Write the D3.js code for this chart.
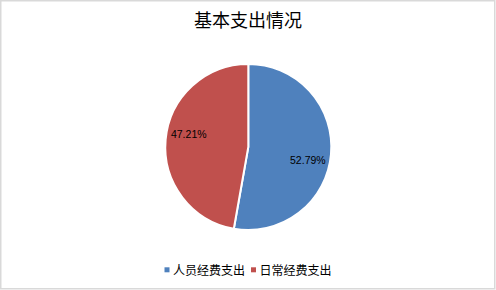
<!DOCTYPE html>
<html><head><meta charset="utf-8">
<script src="https://cdn.jsdelivr.net/npm/d3@7"></script>
<style>body{margin:0;background:#fff}svg{display:block}</style>
</head><body>
<script>
const title = "基本支出情况";
const categories = ["人员经费支出", "日常经费支出"];
const values = [52.79, 47.21];
const colors = ["#4F81BD", "#C0504D"];

const W = 496, H = 290;
const svg = d3.select("body").append("svg").attr("width", W).attr("height", H);
svg.append("rect").attr("x", 0.75).attr("y", 0.75).attr("width", 494).attr("height", 288)
  .attr("fill", "#fff").attr("stroke", "#d9d9d9").attr("stroke-width", 1.5);

svg.append("text").attr("x", 248).attr("y", 27).attr("text-anchor", "middle")
  .attr("font-family", "'Noto Sans CJK SC'").attr("font-size", 18).attr("fill", "#000").text(title);

const cx = 248.3, cy = 147, r = 83;
const pie = d3.pie().sort(null).value(d => d)(values);
const arc = d3.arc().innerRadius(0).outerRadius(r);
const g = svg.append("g").attr("transform", `translate(${cx},${cy})`);
g.selectAll("path").data(pie).join("path").attr("d", arc)
  .attr("fill", (d, i) => colors[i]).attr("stroke", "#fff").attr("stroke-width", 2);

const lr = 61, rot = 0.13;
g.selectAll("text.lbl").data(pie).join("text").attr("class", "lbl")
  .attr("x", d => lr * Math.sin((d.startAngle + d.endAngle) / 2 + rot))
  .attr("y", d => -lr * Math.cos((d.startAngle + d.endAngle) / 2 + rot))
  .attr("dy", "0.35em").attr("text-anchor", "middle")
  .attr("font-family", "'Liberation Sans', Arial").attr("font-size", 10.5).attr("fill", "#000")
  .text(d => d.data.toFixed(2) + "%");

const legend = svg.append("g");
const xs = [164.5, 251];
categories.forEach((c, i) => {
  legend.append("rect").attr("x", xs[i]).attr("y", 267.3).attr("width", 5).attr("height", 5).attr("fill", colors[i]);
  legend.append("text").attr("x", xs[i] + 8.5).attr("y", 274.5)
    .attr("font-family", "'Noto Sans CJK SC'").attr("font-size", 12).attr("fill", "#000").text(c);
});
</script>
</body></html>
